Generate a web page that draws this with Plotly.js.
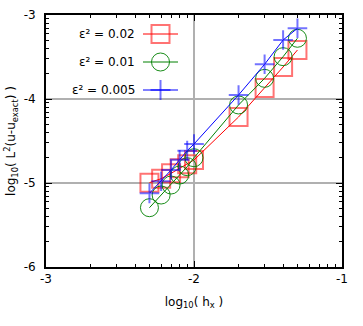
<!DOCTYPE html>
<html>
<head>
<meta charset="utf-8">
<script src="https://cdn.plot.ly/plotly-3.0.1.min.js"></script>
<style>
  html, body { margin: 0; padding: 0; background: #ffffff; }
  #chart { width: 363px; height: 326px; }
</style>
</head>
<body>
<div id="chart"></div>
<script>
// Grid spacing h (as log10) used for every run
const logH = [-2.301, -2.222, -2.155, -2.097, -2.046, -2.0, -1.699, -1.523, -1.398, -1.301];

// log10 of the L2 error for each epsilon^2
const errEps020 = [-4.996, -4.949, -4.885, -4.825, -4.777, -4.726, -4.214, -3.869, -3.619, -3.417];
const errEps010 = [-5.294, -5.143, -5.024, -4.905, -4.806, -4.699, -4.071, -3.754, -3.496, -3.277];
const errEps005 = [-5.123, -4.980, -4.846, -4.723, -4.615, -4.536, -3.952, -3.587, -3.298, -3.158];

const seriesNames = ['ε² = 0.02', 'ε² = 0.01', 'ε² = 0.005'];

const xTicks = [-3, -2, -1];
const yTicks = [-6, -5, -4, -3];

const FONT = 'DejaVu Sans, sans-serif';

// Log-spaced minor ticks inside each decade
function minorTicks(lo, hi) {
  const out = [];
  for (let d = lo; d < hi; d++) {
    for (let k = 2; k <= 9; k++) out.push(d + Math.log10(k));
  }
  return out;
}

const styles = [
  { line: '#ff0000', mark: 'rgba(255,0,0,0.55)', symbol: 'square-open', size: 18, mw: 2 },
  { line: '#008000', mark: 'rgba(0,128,0,0.9)', symbol: 'circle-open', size: 18, mw: 1 },
  { line: '#0000ff', mark: 'rgba(0,0,255,0.55)', symbol: 'cross-thin-open', size: 14, mw: 2 }
];
const values = [errEps020, errEps010, errEps005];

const traces = values.map((ys, i) => ({
  type: 'scatter',
  mode: 'lines+markers',
  x: logH,
  y: ys,
  name: seriesNames[i],
  line: { color: styles[i].line, width: 1 },
  marker: {
    symbol: styles[i].symbol,
    size: styles[i].size,
    color: styles[i].mark,
    line: { color: styles[i].mark, width: styles[i].mw }
  },
  showlegend: false,
  hoverinfo: 'skip'
}));

// Plot area in pixels
const W = 363, H = 326;
const M = { l: 46, r: 21, t: 15, b: 59 };
const PW = W - M.l - M.r, PH = H - M.t - M.b;
const px = v => (v - M.l) / PW;        // pixel x -> paper x
const py = v => (M.t + PH - v) / PH;   // pixel y -> paper y

// Key: text on the left, sample line and symbol on the right
const keyRows = [34, 62, 90];
const keyTextRight = 137;
const keyLineX0 = 143, keyLineX1 = 178, keySymX = 160.5;

const shapes = [
  // white key background over the grid
  { type: 'rect', xref: 'paper', yref: 'paper', layer: 'between',
    x0: 0.003, x1: px(184), y0: py(106), y1: 0.997,
    fillcolor: '#ffffff', line: { width: 0 } }
];
const annotations = [];

keyRows.forEach((row, i) => {
  const s = styles[i];
  const yc = py(row);
  shapes.push({ type: 'line', xref: 'paper', yref: 'paper',
    x0: px(keyLineX0), x1: px(keyLineX1), y0: yc, y1: yc,
    line: { color: s.line, width: 1 } });
  const common = { xref: 'paper', yref: 'paper', xsizemode: 'pixel', ysizemode: 'pixel',
    xanchor: px(keySymX), yanchor: yc };
  if (i === 0) {
    shapes.push(Object.assign({ type: 'rect', x0: -9, x1: 9, y0: -9, y1: 9,
      line: { color: s.mark, width: 2 } }, common));
  } else if (i === 1) {
    shapes.push(Object.assign({ type: 'circle', x0: -9, x1: 9, y0: -9, y1: 9,
      line: { color: s.mark, width: 1 } }, common));
  } else {
    shapes.push(Object.assign({ type: 'line', x0: -10, x1: 10, y0: 0, y1: 0,
      line: { color: s.mark, width: 2 } }, common));
    shapes.push(Object.assign({ type: 'line', x0: 0, x1: 0, y0: -10, y1: 10,
      line: { color: s.mark, width: 2 } }, common));
  }
  annotations.push({ xref: 'paper', yref: 'paper', x: px(keyTextRight), y: yc,
    xanchor: 'right', yanchor: 'middle', showarrow: false, text: seriesNames[i],
    font: { family: FONT, size: 12, color: '#000000' } });
});

const axisCommon = {
  showline: true, linecolor: '#000000', linewidth: 2, mirror: 'allticks',
  ticks: 'inside', ticklen: 6, tickwidth: 1, tickcolor: '#000000',
  showgrid: true, gridcolor: '#b0b0b0', gridwidth: 1.5,
  zeroline: false, tickmode: 'array',
  tickfont: { family: FONT, size: 12, color: '#000000' },
  fixedrange: true
};

const layout = {
  width: W, height: H,
  margin: M,
  paper_bgcolor: '#ffffff', plot_bgcolor: '#ffffff',
  font: { family: FONT, size: 12, color: '#000000' },
  showlegend: false,
  xaxis: Object.assign({}, axisCommon, {
    range: [-3, -1], tickvals: xTicks, ticktext: xTicks.map(String),
    minor: { tickmode: 'array', tickvals: minorTicks(-3, -1), ticks: 'inside',
             ticklen: 3, tickcolor: '#000000', tickwidth: 1, showgrid: false },
    title: { text: 'log<sub>10</sub>( h<sub>x</sub> )', font: { family: FONT, size: 12 }, standoff: 12 }
  }),
  yaxis: Object.assign({}, axisCommon, {
    range: [-6, -3], tickvals: yTicks, ticktext: yTicks.map(String),
    ticklabelstandoff: 6,
    minor: { tickmode: 'array', tickvals: minorTicks(-6, -3), ticks: 'inside',
             ticklen: 3, tickcolor: '#000000', tickwidth: 1, showgrid: false },
    title: { text: 'log<sub>10</sub>( L<sup>2</sup>(u-u<sub>exact</sub>) )', font: { family: FONT, size: 12 }, standoff: 5 }
  }),
  shapes: shapes,
  annotations: annotations
};

Plotly.newPlot('chart', traces, layout, { staticPlot: true, displayModeBar: false });
</script>
</body>
</html>
